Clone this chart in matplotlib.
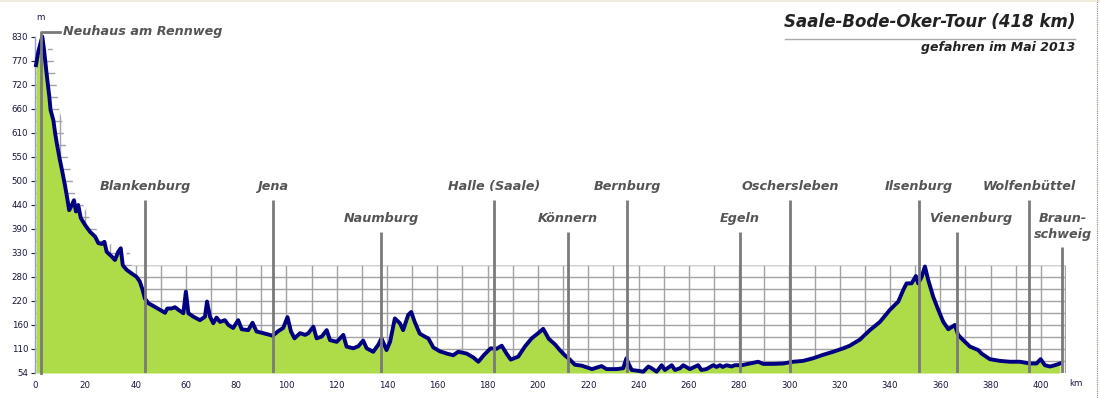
import numpy as np
import matplotlib
matplotlib.use("Agg")
import matplotlib.pyplot as plt
from matplotlib.lines import Line2D

# ---------------- data ----------------
km = [0.4, 1.3, 2.9, 3.6, 4.6, 5.7, 6.2, 7.3, 8.0, 8.9, 9.9, 11.0, 11.9, 12.6, 13.6, 14.5,
      15.5, 16.3, 17.2, 18.2, 19.9, 21.9, 23.9, 25.2, 26.5, 27.6, 28.5, 30.5, 31.8, 33.1,
      34.1, 34.9, 36.5, 38.4, 40.4, 41.7, 42.8, 43.7, 45.1, 47.0, 49.7, 51.7, 52.6, 54.3,
      55.7, 57.0, 59.0, 60.0, 61.0, 63.0, 65.6, 67.6, 68.4, 69.6, 70.9, 72.2, 73.6, 75.5,
      76.9, 78.8, 80.8, 82.2, 84.8, 86.5, 88.1, 90.8, 93.4, 94.5, 96.8, 98.7, 100.4, 101.8,
      103.2, 105.4, 107.4, 108.7, 110.7, 112.0, 114.0, 116.0, 117.3, 120.0, 122.6, 123.9,
      126.6, 128.6, 130.5, 131.9, 134.5, 136.5, 137.8, 139.8, 141.2, 143.1, 145.1, 146.4,
      148.4, 149.6, 151.0, 153.0, 155.0, 156.4, 158.4, 161.0, 163.7, 166.3, 168.3, 171.6,
      174.3, 176.3, 178.6, 181.2, 183.6, 185.6, 187.5, 189.2, 192.2, 194.8, 197.5, 200.1,
      202.1, 204.3, 206.8, 208.7, 210.5, 212.7, 214.7, 217.4, 219.4, 221.5, 225.3, 227.3,
      231.3, 233.9, 235.2, 236.0, 237.3, 239.9, 241.9, 243.9, 245.2, 247.2, 249.2, 250.5,
      253.2, 254.5, 256.5, 257.8, 260.4, 263.7, 265.0, 267.0, 269.7, 271.0, 272.4, 273.5,
      275.0, 277.0, 278.3, 281.0, 284.3, 287.6, 289.6, 293.6, 297.5, 301.5, 305.5, 309.4,
      313.4, 317.4, 321.4, 324.0, 328.0, 332.0, 336.0, 340.0, 343.3, 345.3, 346.6, 348.6,
      350.3, 351.2, 352.6, 353.9, 355.2, 357.2, 359.2, 361.2, 363.2, 365.8, 367.1, 369.1,
      371.8, 375.1, 376.4, 379.7, 383.7, 387.7, 391.7, 395.6, 398.3, 399.9, 401.6, 403.6,
      405.6, 407.6]
elev = [765, 796, 831, 800, 746, 692, 661, 638, 608, 577, 546, 515, 488, 465, 430, 440,
        453, 427, 442, 412, 396, 380, 369, 354, 352, 357, 334, 323, 315, 334,
        342, 303, 292, 284, 276, 265, 246, 226, 215, 209, 200, 193, 203, 203,
        206, 200, 192, 242, 192, 184, 176, 184, 219, 184, 169, 182, 172, 176,
        165, 158, 176, 155, 153, 170, 150, 146, 142, 140, 151, 158, 183, 150,
        134, 146, 142, 146, 161, 134, 138, 153, 130, 126, 142, 115,
        111, 116, 129, 111, 103, 119, 134, 107, 126, 180, 169, 153,
        188, 195, 172, 145, 138, 134, 113, 104, 99, 95, 103, 99,
        90, 80, 96, 111, 110, 117, 99, 85, 92, 115, 134, 146,
        156, 133, 120, 107, 96, 85, 73, 71, 67, 63, 70, 63,
        63, 65, 88, 76, 61, 59, 57, 69, 65, 57, 72, 61,
        72, 61, 65, 72, 63, 72, 61, 63, 72, 68, 72, 68,
        72, 69, 72, 72, 76, 80, 75, 75, 76, 80, 82, 88,
        96, 103, 111, 117, 131, 153, 172, 200, 219, 246, 261, 261,
        278, 261, 276, 300, 269, 230, 200, 172, 155, 165, 142, 130,
        115, 107, 99, 86, 82, 80, 80, 76, 76, 86, 72, 69,
        72, 76]

places = ["Neuhaus am Rennweg", "Blankenburg", "Jena", "Naumburg", "Halle (Saale)",
          "Könnern", "Bernburg", "Egeln", "Oschersleben", "Ilsenburg", "Vienenburg",
          "Wolfenbüttel", "Braun-\nschweig"]
place_km = [2.4, 43.7, 94.6, 137.6, 182.5, 211.9, 235.4, 280.3, 300.2, 351.5, 366.6, 395.2, 408.3]

ytick_vals = list(np.linspace(54, 830, 15))
ytick_labels = ["54", "110", "160", "220", "280", "330", "390", "440", "500", "550",
                "610", "660", "720", "770", "830"]
xtick_vals = list(range(0, 401, 20))
xtick_labels = [str(v) for v in xtick_vals]

title = "Saale-Bode-Oker-Tour (418 km)"
subtitle = "gefahren im Mai 2013"

# ---------------- styling ----------------
W, H = 1100, 398
fig = plt.figure(figsize=(W / 100, H / 100), dpi=100)
fig.patch.set_facecolor("white")
ax = fig.add_axes([35 / W, 1 - 373 / H, (1066 - 35) / W, (373 - 30.5) / H])
ax.set_xlim(0, 410)
ax.set_ylim(54, 845)

km_a = np.array(km)
el_a = np.array(elev)

# grid (behind)
grid_c = "#a3a3a3"
step_h = (830 - 54) / 28.0
hlev = 54 + step_h * np.arange(1, 29)
ax.hlines(hlev, 0, 409.5, color=grid_c, lw=1.0, zorder=0)
ax.vlines(np.arange(10, 401, 10), 54, 845, color=grid_c, lw=1.0, zorder=0)
ax.vlines([409.5], 54, 845, color=grid_c, lw=1.0, zorder=0)

# white cover above shifted profile / grid top
xs = np.linspace(0, 410, 3000)
shifted = np.interp(xs - 3.3, km_a, el_a, left=el_a[0], right=el_a[-1])
cover = np.maximum(shifted, 54 + step_h * 9)
ax.fill_between(xs, cover, 900, color="white", zorder=1, lw=0)

# profile
ax.fill_between(km_a, el_a, 54, color="#ADDC48", lw=0, zorder=2)
ax.plot(km_a, el_a, color="#000080", lw=2.8, zorder=3, solid_joinstyle="round", clip_on=False)

# place lines and labels
line_c = "#7a7a7a"
txt_c = "#555555"
fs_lab = 9.2
upper = {"Blankenburg", "Jena", "Halle (Saale)", "Bernburg", "Oschersleben",
         "Ilsenburg", "Wolfenbüttel"}
for name, k in zip(places, place_km):
    if name.startswith("Neuhaus"):
        ax.plot([k, k, 10.0], [54, 842, 842], color=line_c, lw=2.0, zorder=4, clip_on=False)
        ax.text(11.2, 842, name, fontsize=fs_lab, fontweight="bold", fontstyle="italic",
                color=txt_c, ha="left", va="center", zorder=5)
        continue
    if name in upper:
        top, ty = 454, 484
        tx = k
    elif name.startswith("Braun"):
        top, ty = 345, 392
        tx = k + 0.5
    else:
        top, ty = 380, 410
        tx = k
    if name == "Vienenburg":
        tx = k + 5.5
    ax.vlines([k], 54, top, color=line_c, lw=2.0, zorder=4)
    ax.text(tx, ty, name, fontsize=fs_lab, fontweight="bold", fontstyle="italic",
            color=txt_c, ha="center", va="center", zorder=5, linespacing=1.25)

# axes
for s in ["top", "right", "bottom"]:
    ax.spines[s].set_visible(False)
ax.spines["left"].set_color("#9a9ad8")
ax.spines["left"].set_linewidth(1.0)
ax.spines["left"].set_bounds(54, 830)
ax.set_yticks(ytick_vals)
ax.set_yticklabels(ytick_labels)
ax.set_xticks(xtick_vals)
ax.set_xticklabels(xtick_labels)
tick_c = "#15153a"
ax.tick_params(axis="y", length=3, width=0.8, color="#222222", pad=2,
               labelsize=6.2, labelcolor=tick_c)
ax.tick_params(axis="x", length=0, pad=5.5, labelsize=6.2, labelcolor=tick_c)

fig.text(40 / W, 1 - 18 / H, "m", fontsize=6.2, color=tick_c, ha="center", va="center")
fig.text(1076 / W, 1 - 383 / H, "km", fontsize=6.2, color=tick_c, ha="center", va="center")

# title
fig.text(1075 / W, 1 - 22 / H, title, fontsize=12.0, fontweight="bold", fontstyle="italic",
         color="#222222", ha="right", va="center")
fig.add_artist(Line2D([785 / W, 1075 / W], [1 - 38.5 / H, 1 - 38.5 / H],
                      color="#aaaaaa", lw=1.0))
fig.text(1075 / W, 1 - 47 / H, subtitle, fontsize=9.0, fontweight="bold", fontstyle="italic",
         color="#222222", ha="right", va="center")

# frame details
fig.add_artist(Line2D([0, 1], [1 - 0.8 / H, 1 - 0.8 / H], color="#efebdf", lw=1.5))
fig.add_artist(Line2D([1097 / W, 1097 / W], [0, 1], color="#8a8a70", lw=0.8,
                      linestyle=(0, (1, 1))))

fig.savefig("out.png", dpi=100, facecolor="white")
